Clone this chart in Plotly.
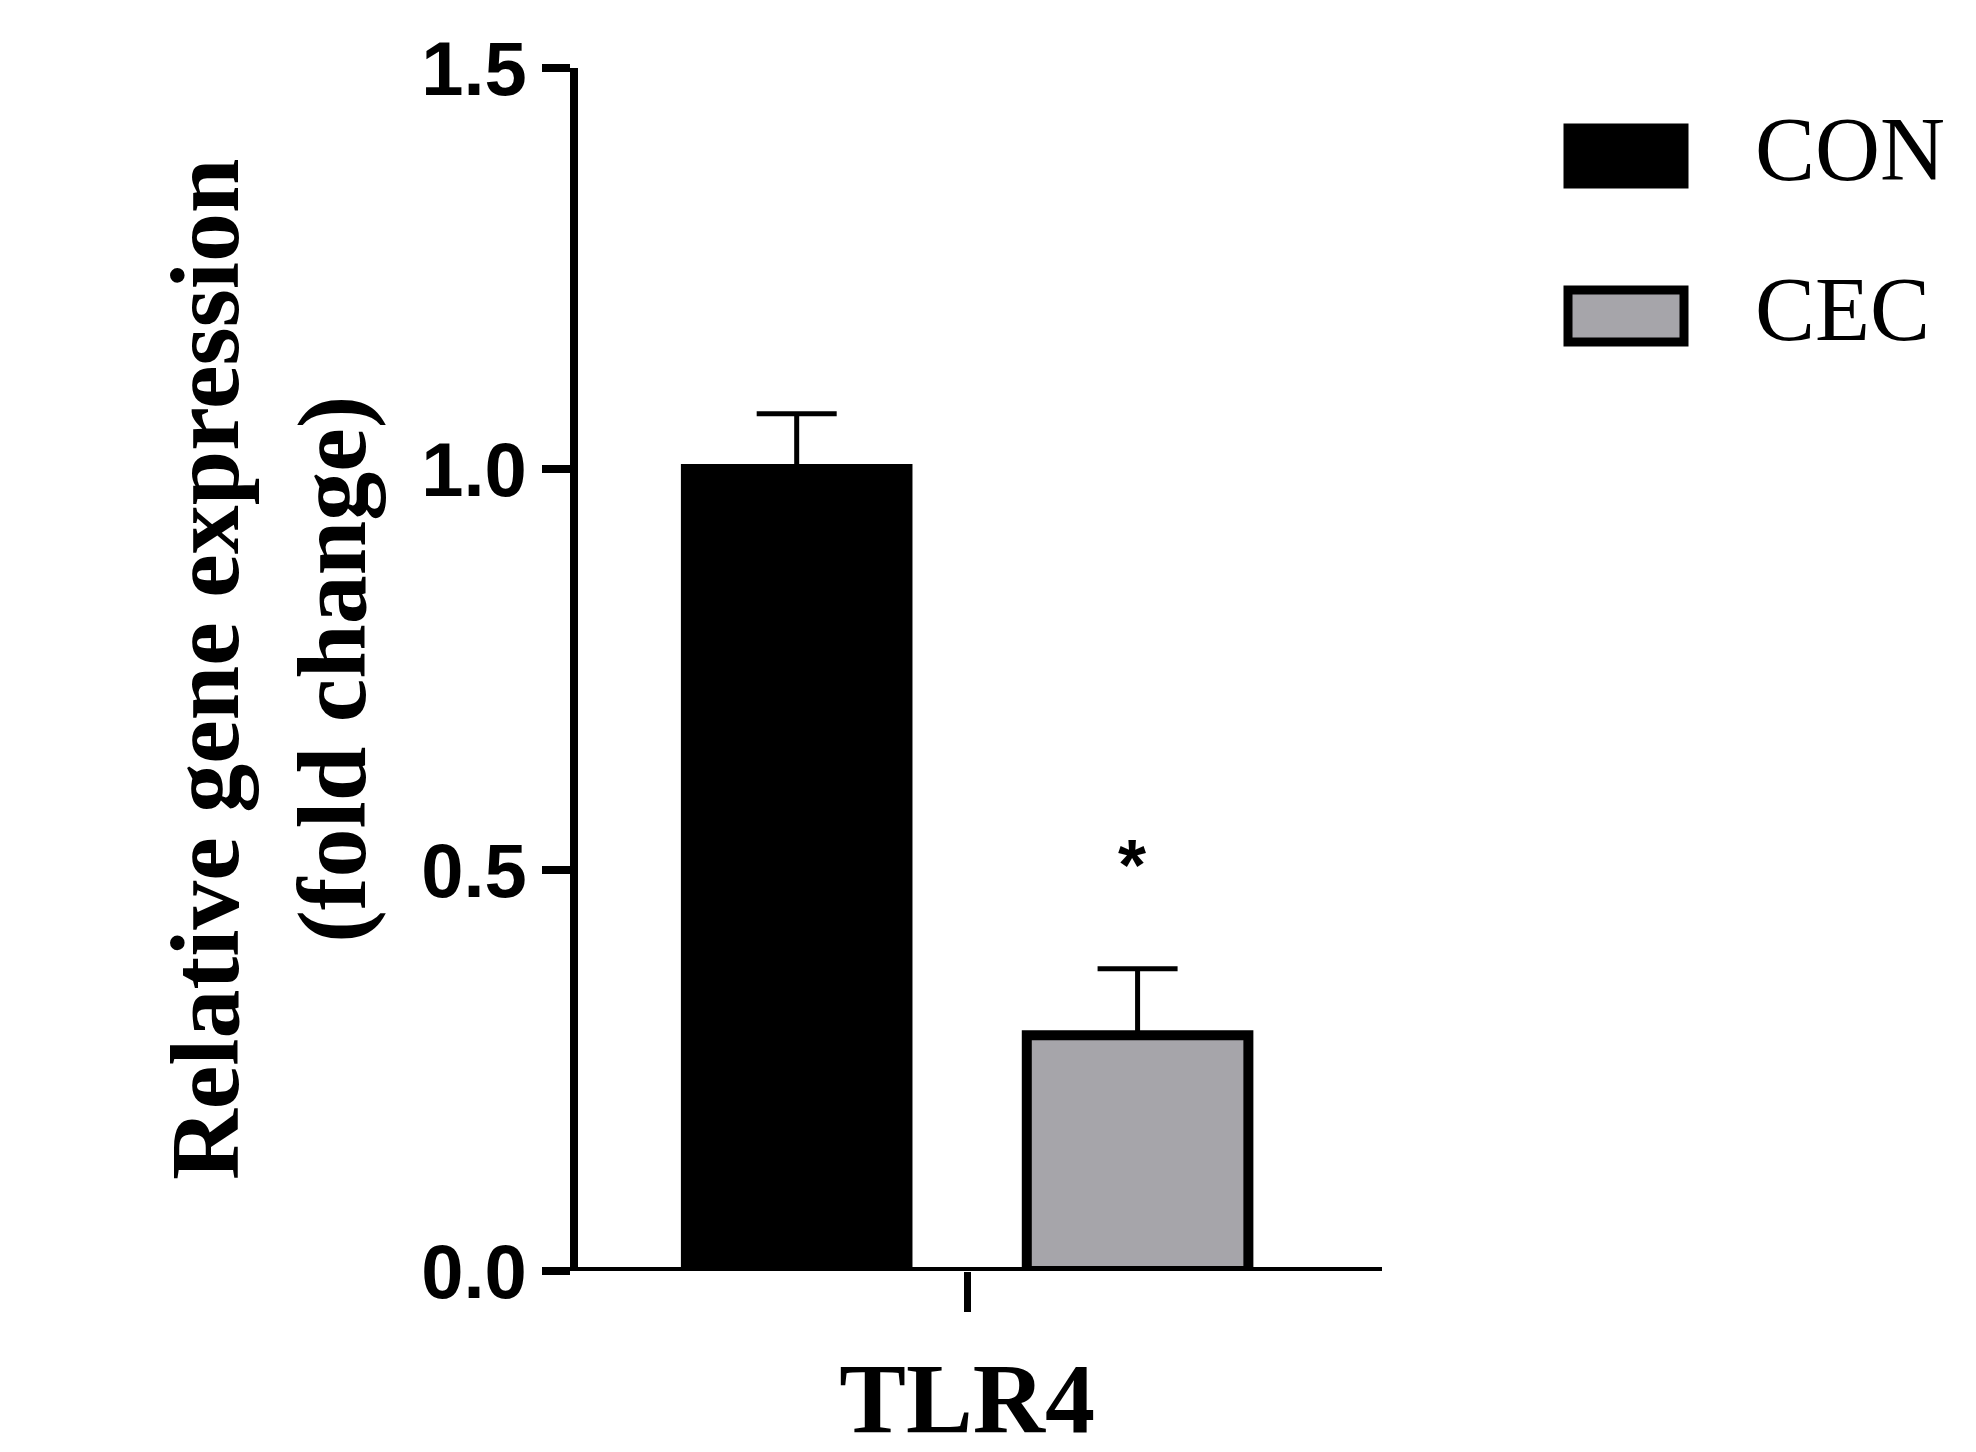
import plotly.graph_objects as go

categories = ["TLR4"]
groups = ["CON", "CEC"]
means = [1.0, 0.294]
errs = [0.069, 0.083]
colors = ["#000000", "#a6a5aa"]
sig = ["", "*"]
yticks = [0, 0.5, 1.0, 1.5]
yticklabels = ["0.0", "0.5", "1.0", "1.5"]

W, H = 1976, 1452
L, R, T, B = 570, 1374, 60, 1263

fig = go.Figure()
for g, m, e, c in zip(groups, means, errs, colors):
    fig.add_trace(go.Bar(
        x=categories, y=[m], name=g, marker=dict(color=c, line=dict(color="black", width=10)),
        error_y=dict(type="data", array=[e], arrayminus=[0], color="black", thickness=5, width=40),
        showlegend=False))

fig.update_layout(
    width=W, height=H, plot_bgcolor="white", paper_bgcolor="white",
    margin=dict(l=L, r=W - R, t=T, b=H - B, autoexpand=False),
    barmode="group", bargap=0.152, bargroupgap=0.35,
    xaxis=dict(showline=False, ticks="outside", ticklen=40, tickwidth=7, tickcolor="black",
               range=[-0.484, 0.516], tickvals=categories,
               ticktext=["<b>%s</b>" % c for c in categories],
               tickfont=dict(family="Liberation Serif", size=100, color="black"),
               showgrid=False),
    yaxis=dict(range=[0, 1.5], tickvals=yticks, ticktext=["<b>%s</b>" % t for t in yticklabels],
               showline=True, linewidth=8, linecolor="black", ticks="outside", ticklen=28,
               tickwidth=8, tickcolor="black", showgrid=False, zeroline=False,
               tickfont=dict(family="Liberation Sans", size=76, color="black")),
)
fig.add_annotation(xref="paper", yref="paper", x=(141 - L) / (R - L), y=0.5, textangle=-90,
                   text="<b>Relative gene expression<br>(fold change)</b>", showarrow=False,
                   font=dict(family="Liberation Serif", size=98, color="black"))
fig.add_shape(type="line", xref="paper", yref="y", x0=-0.04, x1=1.0, y0=0, y1=0,
              line=dict(color="black", width=8))
fig.add_annotation(x=(905 * 1.26 - L) / (R - L), y=0.506, xref="paper", yref="y", text="<b>%s</b>" % sig[1],
                   showarrow=False, font=dict(family="Liberation Sans", size=72, color="black"))

def px_x(p): return (p - L) / (R - L)
def px_y(p): return (B - p) / (B - T)

for i, (g, c) in enumerate(zip(groups, colors)):
    y0, y1 = (120, 176) if i == 0 else (282, 334)
    ty = 90 if i == 0 else 250
    fig.add_shape(type="rect", xref="paper", yref="paper", x0=px_x(1560), x1=px_x(1676),
                  y0=px_y(y1), y1=px_y(y0), fillcolor=c, line=dict(color="black", width=9))
    fig.add_annotation(xref="paper", yref="paper", x=px_x(1745), y=px_y(ty),
                       xanchor="left", text=g, showarrow=False,
                       font=dict(family="Liberation Serif", size=90, color="black"))

fig.write_html("out.html")
